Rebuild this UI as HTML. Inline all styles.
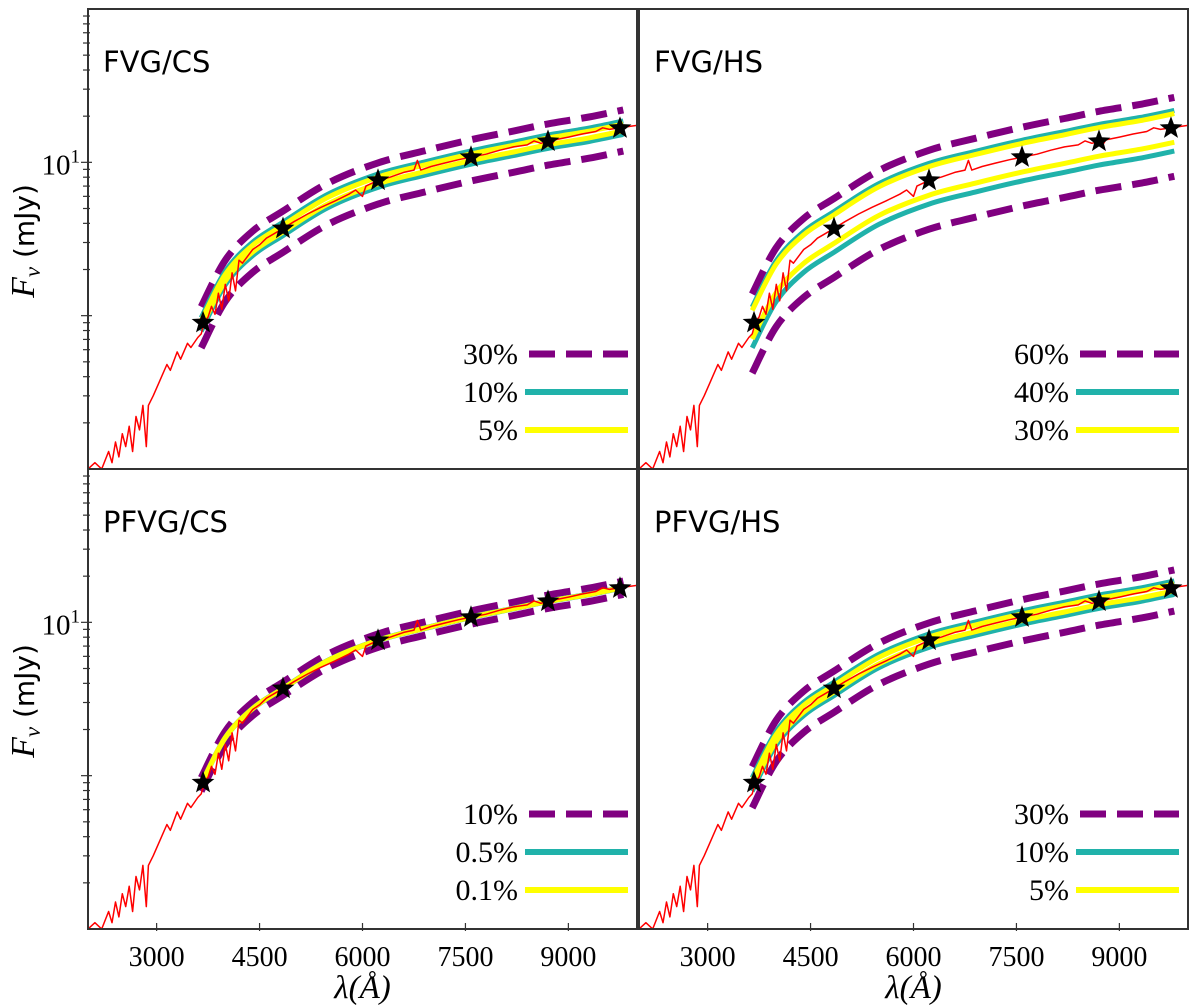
<!DOCTYPE html>
<html><head><meta charset="utf-8"><style>
html,body{margin:0;padding:0;background:#fff;width:1200px;height:1007px;overflow:hidden}
svg{display:block}
</style></head><body>
<svg id="chart" width="1200" height="1007" viewBox="0 0 1200 1007" xmlns="http://www.w3.org/2000/svg"></svg>
<script>
// ---- data ----
const specWl = [2000,2100,2200,2300,2350,2400,2450,2500,2550,2600,2650,2700,2750,2800,2850,2880,2950,3050,3150,3200,3300,3350,3450,3500,3600,3650,3700,3750,3800,3850,3900,3950,4000,4050,4100,4150,4200,4250,4400,4500,4600,4700,4840,5000,5200,5400,5600,5800,5900,6000,6050,6220,6400,6600,6750,6800,6850,7000,7200,7400,7580,7800,8000,8200,8400,8500,8600,8700,8750,8800,9000,9200,9400,9500,9600,9750,10000];
const specFlux = [0.10,0.11,0.10,0.13,0.11,0.15,0.12,0.17,0.14,0.19,0.13,0.22,0.18,0.26,0.14,0.26,0.30,0.38,0.48,0.44,0.58,0.52,0.66,0.62,0.72,0.76,0.92,0.98,1.15,1.02,1.40,1.10,1.60,1.25,1.90,1.45,2.30,2.20,2.70,2.90,3.20,3.40,3.70,4.10,4.60,5.10,5.60,6.20,6.60,6.00,7.00,7.60,8.00,8.60,8.90,10.3,8.90,9.40,9.90,10.4,10.8,11.3,12.0,12.6,13.0,13.8,13.3,13.7,12.8,14.0,14.6,15.3,15.9,16.8,16.4,16.8,17.4];
const modelWl = [3650,4000,4400,4841,5500,6226,6900,7581,8200,8703,9300,9800];
const modelFlux = [0.88,1.77,2.74,3.70,5.64,7.63,9.14,10.8,12.3,13.7,15.2,16.9];
const starWl = [3676,4841,6226,7581,8703,9752];
const starFlux = [0.90,3.70,7.63,10.8,13.7,16.7];
const panelTitles = ["FVG/CS","FVG/HS","PFVG/CS","PFVG/HS"];
const legendLabels = [["30%","10%","5%"],["60%","40%","30%"],["10%","0.5%","0.1%"],["30%","10%","5%"]];
const bandUp = [[1.30,1.10,1.05],[1.57,1.29,1.23],[1.10,1.005,1.001],[1.30,1.10,1.05]];
const bandDown = [[0.70,0.90,0.95],[0.48,0.70,0.80],[0.90,0.995,0.999],[0.70,0.90,0.95]];
const xTicks = [3000,4500,6000,7500,9000];
// ---- layout ----
const svg = document.getElementById('chart');
const NS = 'http://www.w3.org/2000/svg';
const panels = [{x0:88,y0:9},{x0:639,y0:9},{x0:88,y0:469},{x0:639,y0:469}];
const PW = 549, PH = 460;
const xMin = 2000, xMax = 10000, yMin = 0.1, yMax = 100;
function mk(tag, attrs, parent){const e=document.createElementNS(NS,tag);for(const k in attrs)e.setAttribute(k,attrs[k]);(parent||svg).appendChild(e);return e;}
function sx(p,w){return p.x0 + (w-xMin)/(xMax-xMin)*PW;}
function sy(p,f){return p.y0 + PH - (Math.log10(f)-Math.log10(yMin))/(Math.log10(yMax)-Math.log10(yMin))*PH;}
function pathFrom(p,wl,fl,mul){let d='';for(let i=0;i<wl.length;i++){d+=(i?'L':'M')+sx(p,wl[i]).toFixed(1)+' '+sy(p,fl[i]*mul).toFixed(1);}return d;}
function smoothPath(p,mul){const pts=modelWl.map((w,i)=>[sx(p,w),sy(p,modelFlux[i]*mul)]);let d='M'+pts[0][0].toFixed(1)+' '+pts[0][1].toFixed(1);for(let i=0;i<pts.length-1;i++){const p0=pts[Math.max(0,i-1)],p1=pts[i],p2=pts[i+1],p3=pts[Math.min(pts.length-1,i+2)];const c1=[p1[0]+(p2[0]-p0[0])/6,p1[1]+(p2[1]-p0[1])/6];const c2=[p2[0]-(p3[0]-p1[0])/6,p2[1]-(p3[1]-p1[1])/6];d+='C'+c1[0].toFixed(1)+' '+c1[1].toFixed(1)+' '+c2[0].toFixed(1)+' '+c2[1].toFixed(1)+' '+p2[0].toFixed(1)+' '+p2[1].toFixed(1);}return d;}
function starPts(cx,cy,R,r){let s='';for(let k=0;k<10;k++){const a=-Math.PI/2+k*Math.PI/5;const rr=k%2?r:R;s+=(cx+rr*Math.cos(a)).toFixed(1)+','+(cy+rr*Math.sin(a)).toFixed(1)+' ';}return s;}
const defs = mk('defs',{});
const colors = ['#800080','#20b2aa','#ffff00'];
panels.forEach((p,pi)=>{
  const cp = mk('clipPath',{id:'clip'+pi},defs);
  mk('rect',{x:p.x0,y:p.y0,width:PW,height:PH},cp);
  const g = mk('g',{'clip-path':'url(#clip'+pi+')'});
  
  
  for(let b=0;b<3;b++){
    [bandUp[pi][b],bandDown[pi][b]].forEach((m,j)=>{
      const e = mk('path',{d:smoothPath(p,m),fill:'none',stroke:colors[b],'stroke-width':b===0?7:5,'stroke-dasharray':b===0?'26 11':'none'},g);
      
      
    });
  }
  const sp = mk('path',{d:pathFrom(p,specWl,specFlux,1),fill:'none',stroke:'#ff0000','stroke-width':1.5,'stroke-linejoin':'round'},g);
  
  
  starWl.forEach((w,i)=>{
    const s = mk('polygon',{points:starPts(sx(p,w),sy(p,starFlux[i]),12,5),fill:'#000'},g);
    
    
  });
  const fr = mk('rect',{x:p.x0,y:p.y0,width:PW,height:PH,fill:'none',stroke:'#333','stroke-width':2});
  
  
  const t = mk('text',{x:p.x0+15,y:p.y0+63,'font-family':'"DejaVu Sans","Liberation Sans",sans-serif','font-size':29,fill:'#000'});
  t.textContent = panelTitles[pi];
  
  
  for(let b=0;b<3;b++){
    const ly = p.y0 + 345 + b*38;
    const lt = mk('text',{x:p.x0+430,y:ly+10,'text-anchor':'end','font-family':'"Liberation Serif",serif','font-size':30,fill:'#000'});
    lt.textContent = legendLabels[pi][b];
    
    
    const ll = mk('line',{x1:p.x0+(b===0?441:437),x2:p.x0+540,y1:ly,y2:ly,stroke:colors[b],'stroke-width':b===0?7:6,'stroke-dasharray':b===0?'26 11':'none'});
    
    
  }
  if(p.x0===88){
    for(let dec=-1;dec<2;dec++){for(let k=1;k<10;k++){const v=k*Math.pow(10,dec);if(v<=yMin||v>=yMax)continue;const y=sy(p,v);const major=(k===1);
      const tk = mk('line',{x1:p.x0-(major?7:5),x2:p.x0+(major?4:2),y1:y,y2:y,stroke:'#333','stroke-width':1.2});
      
      
    }}
    const lab = mk('text',{x:p.x0-8,y:sy(p,10)+12,'text-anchor':'end','font-family':'"Liberation Serif",serif','font-size':29,fill:'#000'});
    lab.innerHTML = '10<tspan dy="-12" font-size="19">1</tspan>';
    
    
    const yl = mk('text',{transform:'translate(34,'+(p.y0+232)+') rotate(-90)','text-anchor':'middle','font-size':34,fill:'#000'});
    yl.innerHTML = '<tspan font-family="Liberation Serif,serif" font-style="italic">F</tspan><tspan font-family="Liberation Serif,serif" font-style="italic" font-size="23" dy="6">ν</tspan><tspan dy="-6" font-family="DejaVu Sans,sans-serif" font-size="28"> (mJy)</tspan>';
    
    
  }
  if(p.y0===469){
    xTicks.forEach(v=>{const x=sx(p,v);
      const tk = mk('line',{x1:x,x2:x,y1:p.y0+PH-6,y2:p.y0+PH+2,stroke:'#333','stroke-width':1.2});
      
      
      const tl = mk('text',{x:x,y:p.y0+PH+37,'text-anchor':'middle','font-family':'"Liberation Serif",serif','font-size':28,fill:'#000'});
      tl.textContent = v;
      
      
    });
    const xl = mk('text',{x:p.x0+PW/2,y:998,'text-anchor':'middle','font-family':'"Liberation Serif",serif','font-size':33,'font-style':'italic',fill:'#000'});
    xl.textContent = 'λ(Å)';
    
    
  }
});
</script>
</body></html>
